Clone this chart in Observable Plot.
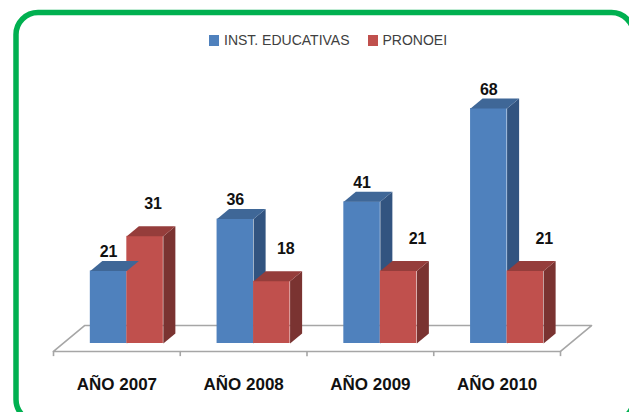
<!DOCTYPE html>
<html><head><meta charset="utf-8">
<script src="https://cdn.jsdelivr.net/npm/d3@7"></script>
<script src="https://cdn.jsdelivr.net/npm/@observablehq/plot@0.6"></script>
<style>
html,body{margin:0;padding:0;background:#fff;overflow:hidden}
#wrap{position:relative;width:629px;height:412px}
#legend{position:absolute;left:209px;top:30px;font:14px "Liberation Sans",sans-serif;color:#404040;white-space:nowrap;display:flex;align-items:center;height:20px}
#legend i{display:inline-block;width:10px;height:11px;margin-right:5px}
</style></head><body>
<div id="wrap"><div id="legend"></div><div id="chart"></div></div>
<script>
const categories = ["AÑO 2007","AÑO 2008","AÑO 2009","AÑO 2010"];
const series = ["INST. EDUCATIVAS","PRONOEI"];
const instEducativas = [21,36,41,68];
const pronoei = [31,18,21,21];
const frontColors = ["#4F81BD","#C0504D"];
const topColors = ["#3F6797","#953D3B"];
const sideColors = ["#325480","#7A3331"];

// 3D geometry, in axis units
const barW = 0.288, depthX = 0.095, depthY = 2.9, floorDrop = 2.3, tickLen = 1.5, barShift = 0.0785;
const cx = i => i + 0.5;
const bars = categories.flatMap((c,i)=>[
  {c,i,s:0,v:instEducativas[i],x1:cx(i)+barShift-barW,x2:cx(i)+barShift},
  {c,i,s:1,v:pronoei[i],x1:cx(i)+barShift,x2:cx(i)+barShift+barW}
]);
const poly = (pts,fill,id)=>pts.map(([x,y])=>({x,y,fill,id}));
const tops = bars.flatMap((b,k)=>poly([[b.x1,b.v],[b.x2,b.v],[b.x2+depthX,b.v+depthY],[b.x1+depthX,b.v+depthY]],topColors[b.s],"t"+k));
const sides = bars.flatMap((b,k)=>poly([[b.x2,0],[b.x2,b.v],[b.x2+depthX,b.v+depthY],[b.x2+depthX,depthY]],sideColors[b.s],"s"+k));
const n = categories.length;
const floor = [[0,-floorDrop],[0.245,5.2],[n+0.245,5.2],[n,-floorDrop],[0,-floorDrop]].map(([x,y])=>({x,y}));
const ticks = d3.range(n+1);
// red labels sit up and to the right of their bars
const redLabelDx = [8,14,19,19];
const labels = bars.map(b=>({
  x:(b.x1+b.x2)/2, y:b.v, text:String(b.v),
  dx: b.s===0 ? 0 : redLabelDx[b.i],
  dy: b.s===0 ? -19 : -32
}));
const font = "'Liberation Sans',sans-serif";

const fig = Plot.plot({
  width:629,height:412,marginTop:0,marginRight:0,marginBottom:0,marginLeft:0,
  x:{domain:[0,n],range:[53,560],axis:null},
  y:{domain:[0,68],range:[343,108],axis:null},
  marks:[
    Plot.frame({stroke:"#00B050",strokeWidth:5.5,rx:22,insetLeft:15.5,insetTop:12,insetRight:-4,insetBottom:-9}),
    Plot.line(floor,{x:"x",y:"y",stroke:"#A6A6A6",strokeWidth:1.6}),
    Plot.ruleX(ticks,{x:d=>d,y1:-floorDrop,y2:-floorDrop-tickLen,stroke:"#A6A6A6",strokeWidth:1.6}),
    Plot.line(sides,{x:"x",y:"y",z:"id",fill:"fill",stroke:"none",curve:"linear-closed"}),
    Plot.rect(bars,{x1:"x1",x2:"x2",y1:0,y2:"v",fill:d=>frontColors[d.s]}),
    Plot.line(tops,{x:"x",y:"y",z:"id",fill:"fill",stroke:"none",curve:"linear-closed"}),
    ...labels.map(l=>Plot.text([l],{x:"x",y:"y",text:"text",dx:l.dx,dy:l.dy,fontSize:16,fontWeight:"bold",fill:"#111",fontFamily:font})),
    Plot.text(categories,{x:(d,i)=>cx(i),y:()=>0,text:d=>d,dy:41,fontSize:17,fontWeight:"bold",fill:"#111",fontFamily:font})
  ]
});
fig.style.display="block";
document.getElementById("chart").appendChild(fig);
document.getElementById("legend").innerHTML = series.map((s,i)=>`<i style="background:${frontColors[i]}"></i><span style="margin-right:18px">${s}</span>`).join("");
</script></body></html>
